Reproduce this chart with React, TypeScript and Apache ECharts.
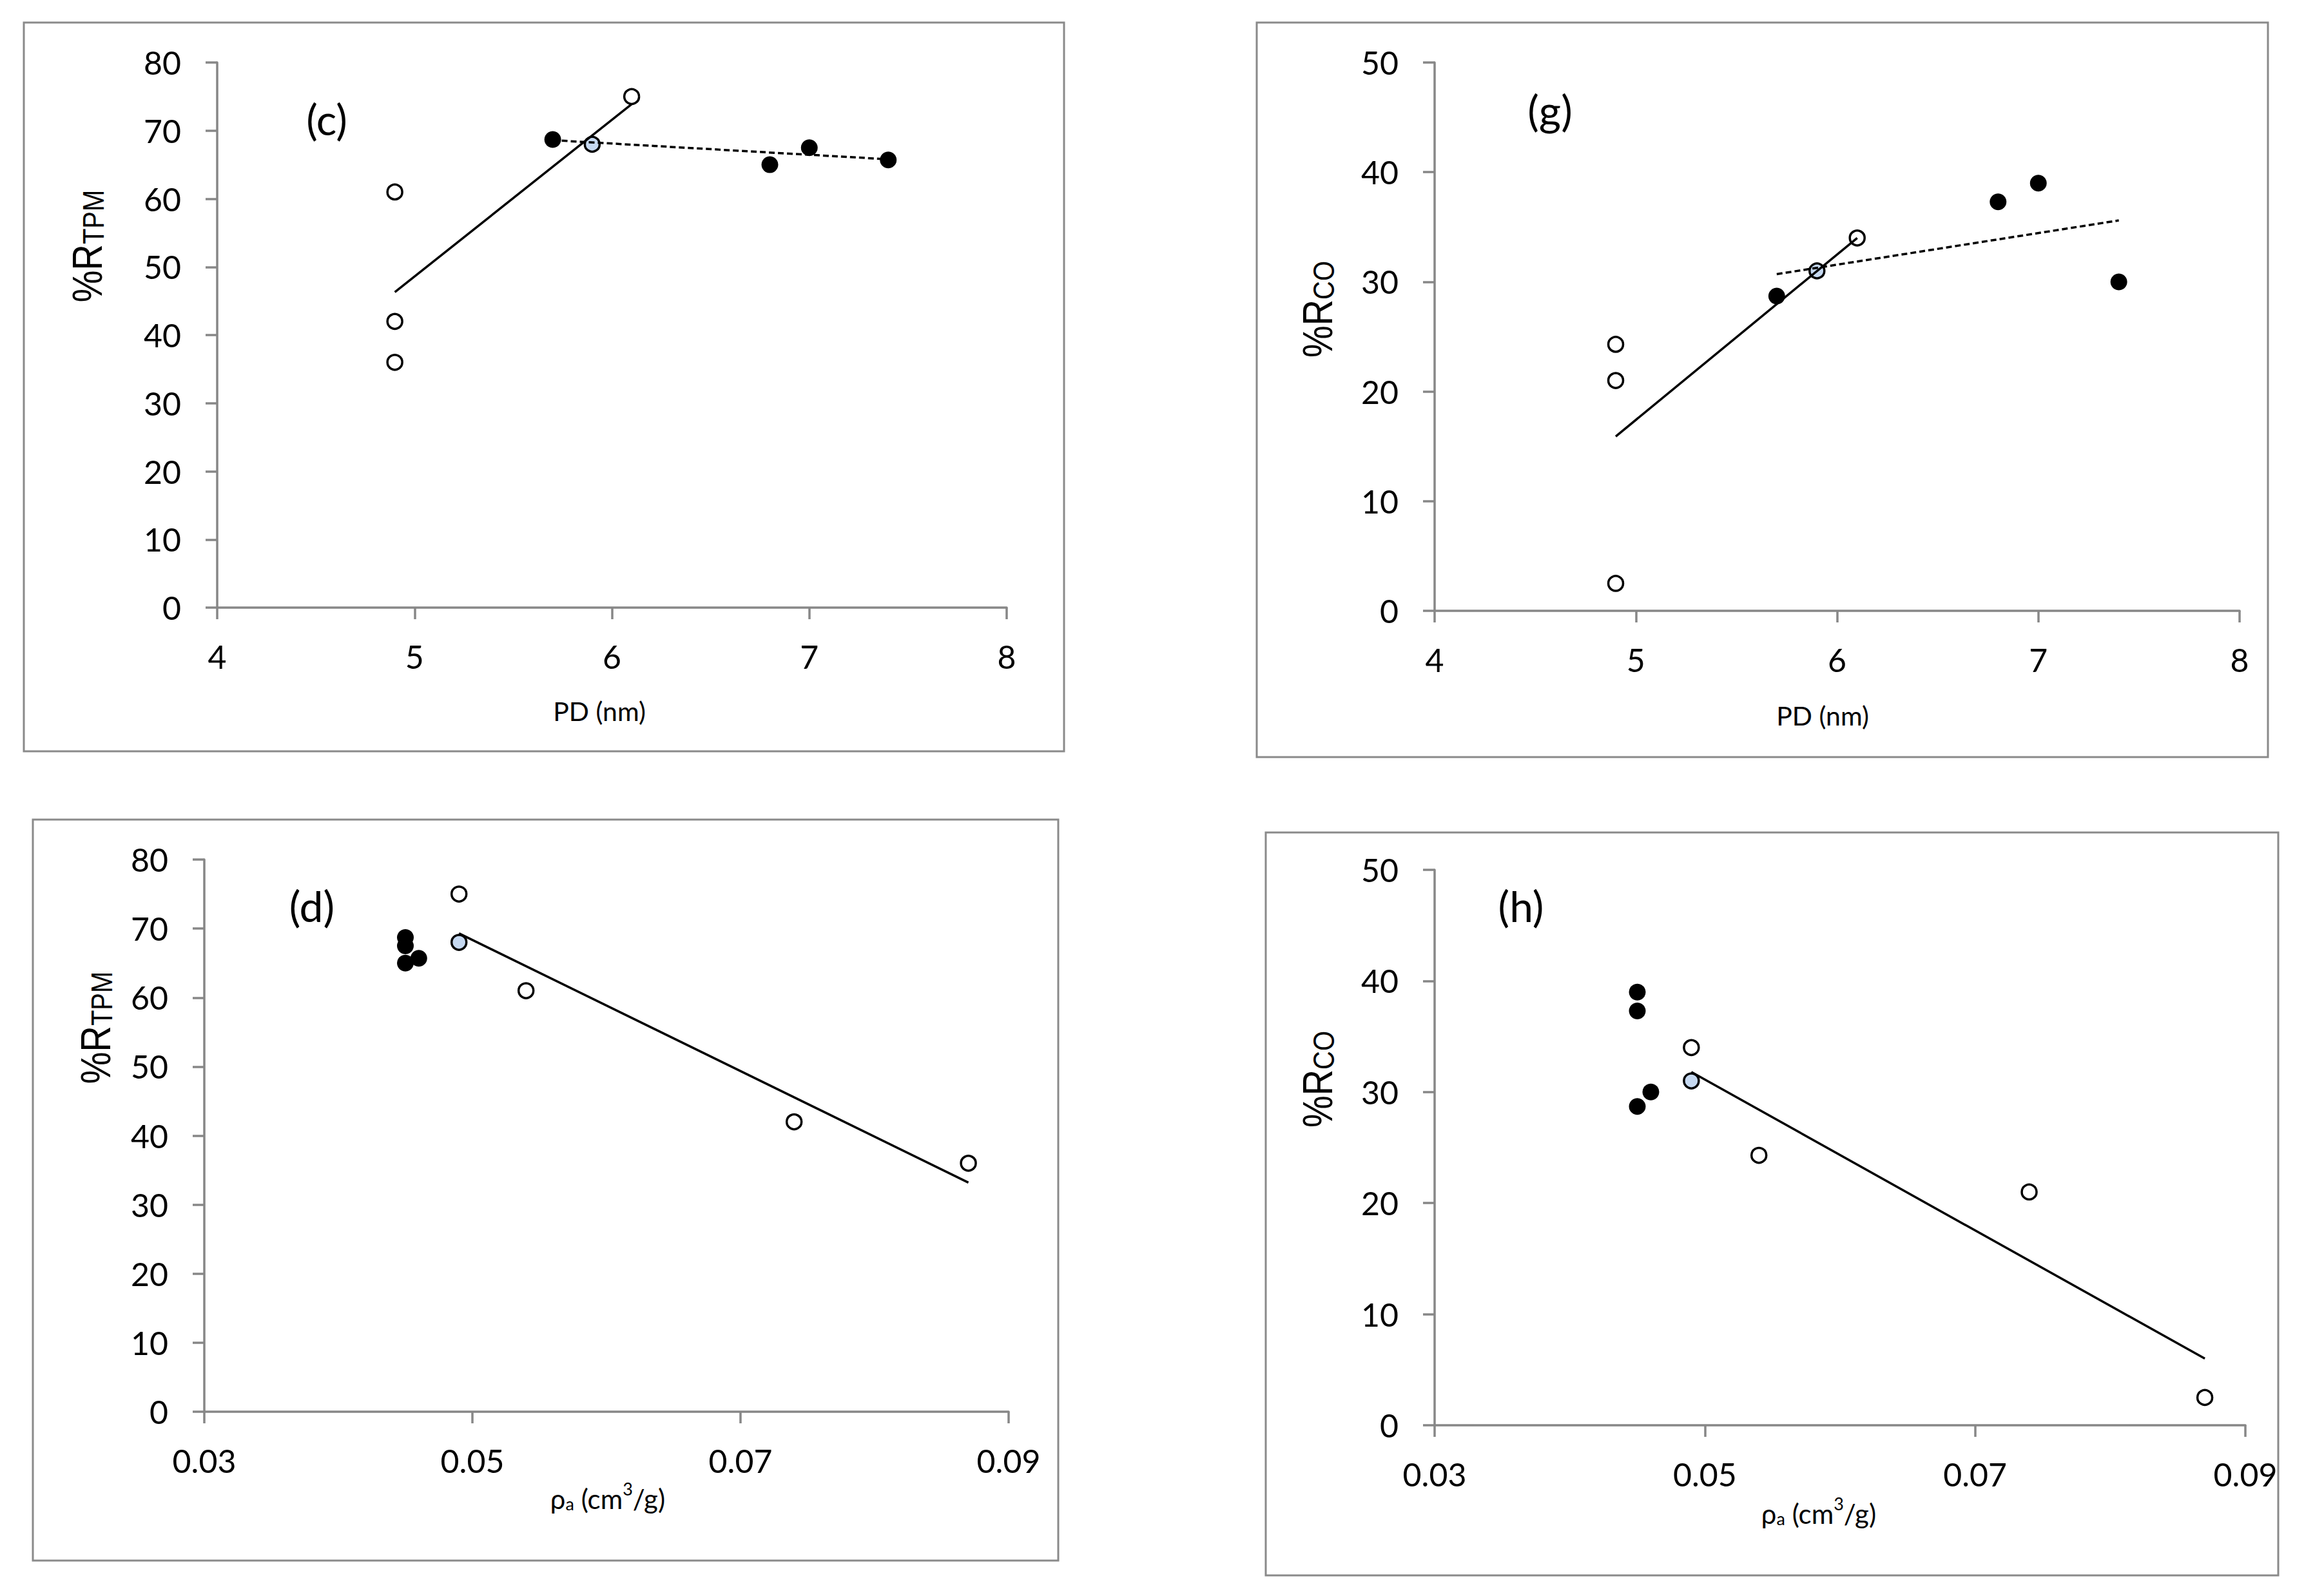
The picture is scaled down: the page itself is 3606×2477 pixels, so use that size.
import React, { useEffect, useRef } from "react";
import * as echarts from "echarts";

// ---------- data ----------
// x tick values
const pdTicks = [4, 5, 6, 7, 8];
const rhoTicks = [0.03, 0.05, 0.07, 0.09];

// Panel (c): %R_TPM vs PD (nm)
const cOpenPD = [4.9, 4.9, 4.9, 6.1];
const cOpenTPM = [61, 42, 36, 75];
const cBluePD = [5.9];
const cBlueTPM = [68];
const cFilledPD = [5.7, 6.8, 7.0, 7.4];
const cFilledTPM = [68.7, 65, 67.5, 65.7];
const cSolidPD = [4.9, 6.1];
const cSolidTPM = [46.3, 73.9];
const cDashPD = [5.7, 7.4];
const cDashTPM = [68.6, 65.8];

// Panel (g): %R_CO vs PD (nm)
const gOpenPD = [4.9, 4.9, 4.9, 6.1];
const gOpenCO = [24.3, 21, 2.5, 34];
const gBluePD = [5.9];
const gBlueCO = [31];
const gFilledPD = [5.7, 6.8, 7.0, 7.4];
const gFilledCO = [28.7, 37.3, 39, 30];
const gSolidPD = [4.9, 6.1];
const gSolidCO = [15.9, 34.0];
const gDashPD = [5.7, 7.4];
const gDashCO = [30.7, 35.6];

// Panel (d): %R_TPM vs rho_a (cm3/g)
const dOpenRho = [0.049, 0.054, 0.074, 0.087];
const dOpenTPM = [75, 61, 42, 36];
const dBlueRho = [0.049];
const dBlueTPM = [68];
const dFilledRho = [0.045, 0.045, 0.045, 0.046];
const dFilledTPM = [68.7, 67.5, 65, 65.7];
const dSolidRho = [0.049, 0.087];
const dSolidTPM = [69.3, 33.2];

// Panel (h): %R_CO vs rho_a (cm3/g)
const hOpenRho = [0.049, 0.054, 0.074, 0.087];
const hOpenCO = [34, 24.3, 21, 2.5];
const hBlueRho = [0.049];
const hBlueCO = [31];
const hFilledRho = [0.045, 0.045, 0.045, 0.046];
const hFilledCO = [39, 37.3, 28.7, 30];
const hSolidRho = [0.049, 0.087];
const hSolidCO = [31.8, 6.0];

// ---------- styling ----------
const AXIS_GRAY = "#878787";
const TICK_FONT = "Lato";
const TITLE_FONT = "Liberation Sans";

const zip = (xs: number[], ys: number[]) => xs.map((x, i) => [x, ys[i]]);

function xAxisDef(gridIndex: number, ticks: number[], digits: number) {
  const interval = ticks[1] - ticks[0];
  return {
    type: "value",
    gridIndex,
    min: ticks[0],
    max: ticks[ticks.length - 1],
    interval,
    axisLine: { show: true, onZero: false, lineStyle: { color: AXIS_GRAY, width: 3.5 } },
    axisTick: { show: true, inside: false, length: 18, lineStyle: { color: AXIS_GRAY, width: 3.5 } },
    splitLine: { show: false },
    axisLabel: {
      show: true,
      color: "#000",
      fontFamily: TICK_FONT,
      fontSize: 50,
      lineHeight: 50,
      margin: 51,
      formatter: (v: number) => v.toFixed(digits),
    },
  };
}

function yAxisDef(gridIndex: number, max: number) {
  return {
    type: "value",
    gridIndex,
    min: 0,
    max,
    interval: 10,
    axisLine: { show: true, lineStyle: { color: AXIS_GRAY, width: 3.5 } },
    axisTick: { show: true, inside: false, length: 18, lineStyle: { color: AXIS_GRAY, width: 3.5 } },
    splitLine: { show: false },
    axisLabel: {
      show: true,
      color: "#000",
      fontFamily: TICK_FONT,
      fontSize: 50,
      margin: 56,
    },
  };
}

const MARK = 23;
function openSeries(i: number, data: number[][]) {
  return {
    type: "scatter",
    xAxisIndex: i,
    yAxisIndex: i,
    data,
    symbol: "circle",
    symbolSize: MARK,
    itemStyle: { color: "#ffffff", borderColor: "#000", borderWidth: 3.5, opacity: 1 },
    z: 2,
  };
}
function blueSeries(i: number, data: number[][]) {
  return {
    type: "scatter",
    xAxisIndex: i,
    yAxisIndex: i,
    data,
    symbol: "circle",
    symbolSize: MARK,
    itemStyle: { color: "#c6d9f1", borderColor: "#000", borderWidth: 3.5, opacity: 1 },
    z: 2,
  };
}
function filledSeries(i: number, data: number[][]) {
  return {
    type: "scatter",
    xAxisIndex: i,
    yAxisIndex: i,
    data,
    symbol: "circle",
    symbolSize: MARK + 3,
    itemStyle: { color: "#000", borderColor: "#000", borderWidth: 0, opacity: 1 },
    z: 2,
  };
}
function lineSeries(i: number, data: number[][], dashed: boolean) {
  return {
    type: "line",
    xAxisIndex: i,
    yAxisIndex: i,
    data,
    symbol: "none",
    silent: true,
    lineStyle: { color: "#000", width: 3.5, type: dashed ? [9, 5] : "solid" },
    z: 3,
  };
}

function border(x1: number, y1: number, x2: number, y2: number) {
  return {
    type: "rect",
    shape: { x: x1, y: y1, width: x2 - x1, height: y2 - y1 },
    style: { fill: "none", stroke: "#8a8a8a", lineWidth: 3 },
    silent: true,
    z: 0,
  };
}

function panelLabel(text: string, x: number, y: number) {
  return {
    type: "text",
    x,
    y,
    style: {
      text,
      fontSize: 66,
      fontFamily: TICK_FONT,
      fill: "#000",
      textAlign: "center",
      textVerticalAlign: "middle",
      align: "center",
      verticalAlign: "middle",
    },
    z: 10,
  };
}

function yTitle(sub: string, x: number, y: number) {
  return {
    type: "text",
    x,
    y,
    rotation: Math.PI / 2,
    scaleY: 1.17,
    style: {
      text: "{m|%R}{s|" + sub + "}",
      fill: "#000",
      textAlign: "center",
      textVerticalAlign: "middle",
      align: "center",
      verticalAlign: "middle",
      rich: {
        m: { fontSize: 56, fontFamily: TITLE_FONT, lineHeight: 70, verticalAlign: "bottom", fill: "#000" },
        s: { fontSize: 40, fontFamily: TITLE_FONT, lineHeight: 24, verticalAlign: "bottom", fill: "#000" },
      },
    },
    z: 10,
  };
}

function pdTitle(x: number, y: number) {
  return {
    type: "text",
    x,
    y,
    style: {
      text: "PD (nm)",
      fontSize: 41,
      fontFamily: TICK_FONT,
      fill: "#000",
      textAlign: "center",
      textVerticalAlign: "middle",
      align: "center",
      verticalAlign: "middle",
    },
    z: 10,
  };
}

function rhoTitle(x: number, y: number) {
  return {
    type: "text",
    x,
    y,
    style: {
      text: "{n|ρ}{s|a}{n| (cm}{p|3}{n|/g)}",
      fill: "#000",
      textAlign: "center",
      textVerticalAlign: "middle",
      align: "center",
      verticalAlign: "middle",
      rich: {
        n: { fontSize: 42, fontFamily: TICK_FONT, lineHeight: 50, verticalAlign: "bottom", fill: "#000" },
        s: { fontSize: 27, fontFamily: TICK_FONT, lineHeight: 20, verticalAlign: "bottom", fill: "#000" },
        p: { fontSize: 27, fontFamily: TICK_FONT, lineHeight: 20, verticalAlign: "top", fill: "#000" },
      },
    },
    z: 10,
  };
}

export default function App() {
  const ref = useRef<HTMLDivElement>(null);

  useEffect(() => {
    if (!ref.current) return;
    const chart = echarts.init(ref.current, undefined, { renderer: "svg" });

    const option = {
      animation: false,
      backgroundColor: "#ffffff",
      grid: [
        { left: 337, top: 97, width: 1225, height: 846 },
        { left: 2226, top: 97, width: 1249, height: 851 },
        { left: 317, top: 1334, width: 1248, height: 857 },
        { left: 2226, top: 1350, width: 1258, height: 862 },
      ],
      xAxis: [
        xAxisDef(0, pdTicks, 0),
        xAxisDef(1, pdTicks, 0),
        xAxisDef(2, rhoTicks, 2),
        xAxisDef(3, rhoTicks, 2),
      ],
      yAxis: [yAxisDef(0, 80), yAxisDef(1, 50), yAxisDef(2, 80), yAxisDef(3, 50)],
      series: [
        openSeries(0, zip(cOpenPD, cOpenTPM)),
        blueSeries(0, zip(cBluePD, cBlueTPM)),
        filledSeries(0, zip(cFilledPD, cFilledTPM)),
        lineSeries(0, zip(cSolidPD, cSolidTPM), false),
        lineSeries(0, zip(cDashPD, cDashTPM), true),

        openSeries(1, zip(gOpenPD, gOpenCO)),
        blueSeries(1, zip(gBluePD, gBlueCO)),
        filledSeries(1, zip(gFilledPD, gFilledCO)),
        lineSeries(1, zip(gSolidPD, gSolidCO), false),
        lineSeries(1, zip(gDashPD, gDashCO), true),

        openSeries(2, zip(dOpenRho, dOpenTPM)),
        blueSeries(2, zip(dBlueRho, dBlueTPM)),
        filledSeries(2, zip(dFilledRho, dFilledTPM)),
        lineSeries(2, zip(dSolidRho, dSolidTPM), false),

        openSeries(3, zip(hOpenRho, hOpenCO)),
        blueSeries(3, zip(hBlueRho, hBlueCO)),
        filledSeries(3, zip(hFilledRho, hFilledCO)),
        lineSeries(3, zip(hSolidRho, hSolidCO), false),
      ],
      graphic: [
        border(37, 35, 1651, 1166),
        border(1950, 35, 3519, 1175),
        border(51, 1272, 1642, 2422),
        border(1964, 1292, 3535, 2445),
        panelLabel("(c)", 507, 184),
        panelLabel("(g)", 2405, 170),
        panelLabel("(d)", 484, 1405),
        panelLabel("(h)", 2360, 1405),
        yTitle("TPM", 127, 382),
        yTitle("CO", 2036, 480),
        yTitle("TPM", 140, 1595),
        yTitle("CO", 2036, 1675),
        pdTitle(930, 1103),
        pdTitle(2828, 1110),
        rhoTitle(943, 2322),
        rhoTitle(2822, 2345),
      ],
    };

    chart.setOption(option as any);
    return () => {
      chart.dispose();
    };
  }, []);

  return (
    <div
      ref={ref}
      style={{ position: "fixed", left: 0, top: 0, width: 3606, height: 2477, background: "#fff" }}
    />
  );
}
